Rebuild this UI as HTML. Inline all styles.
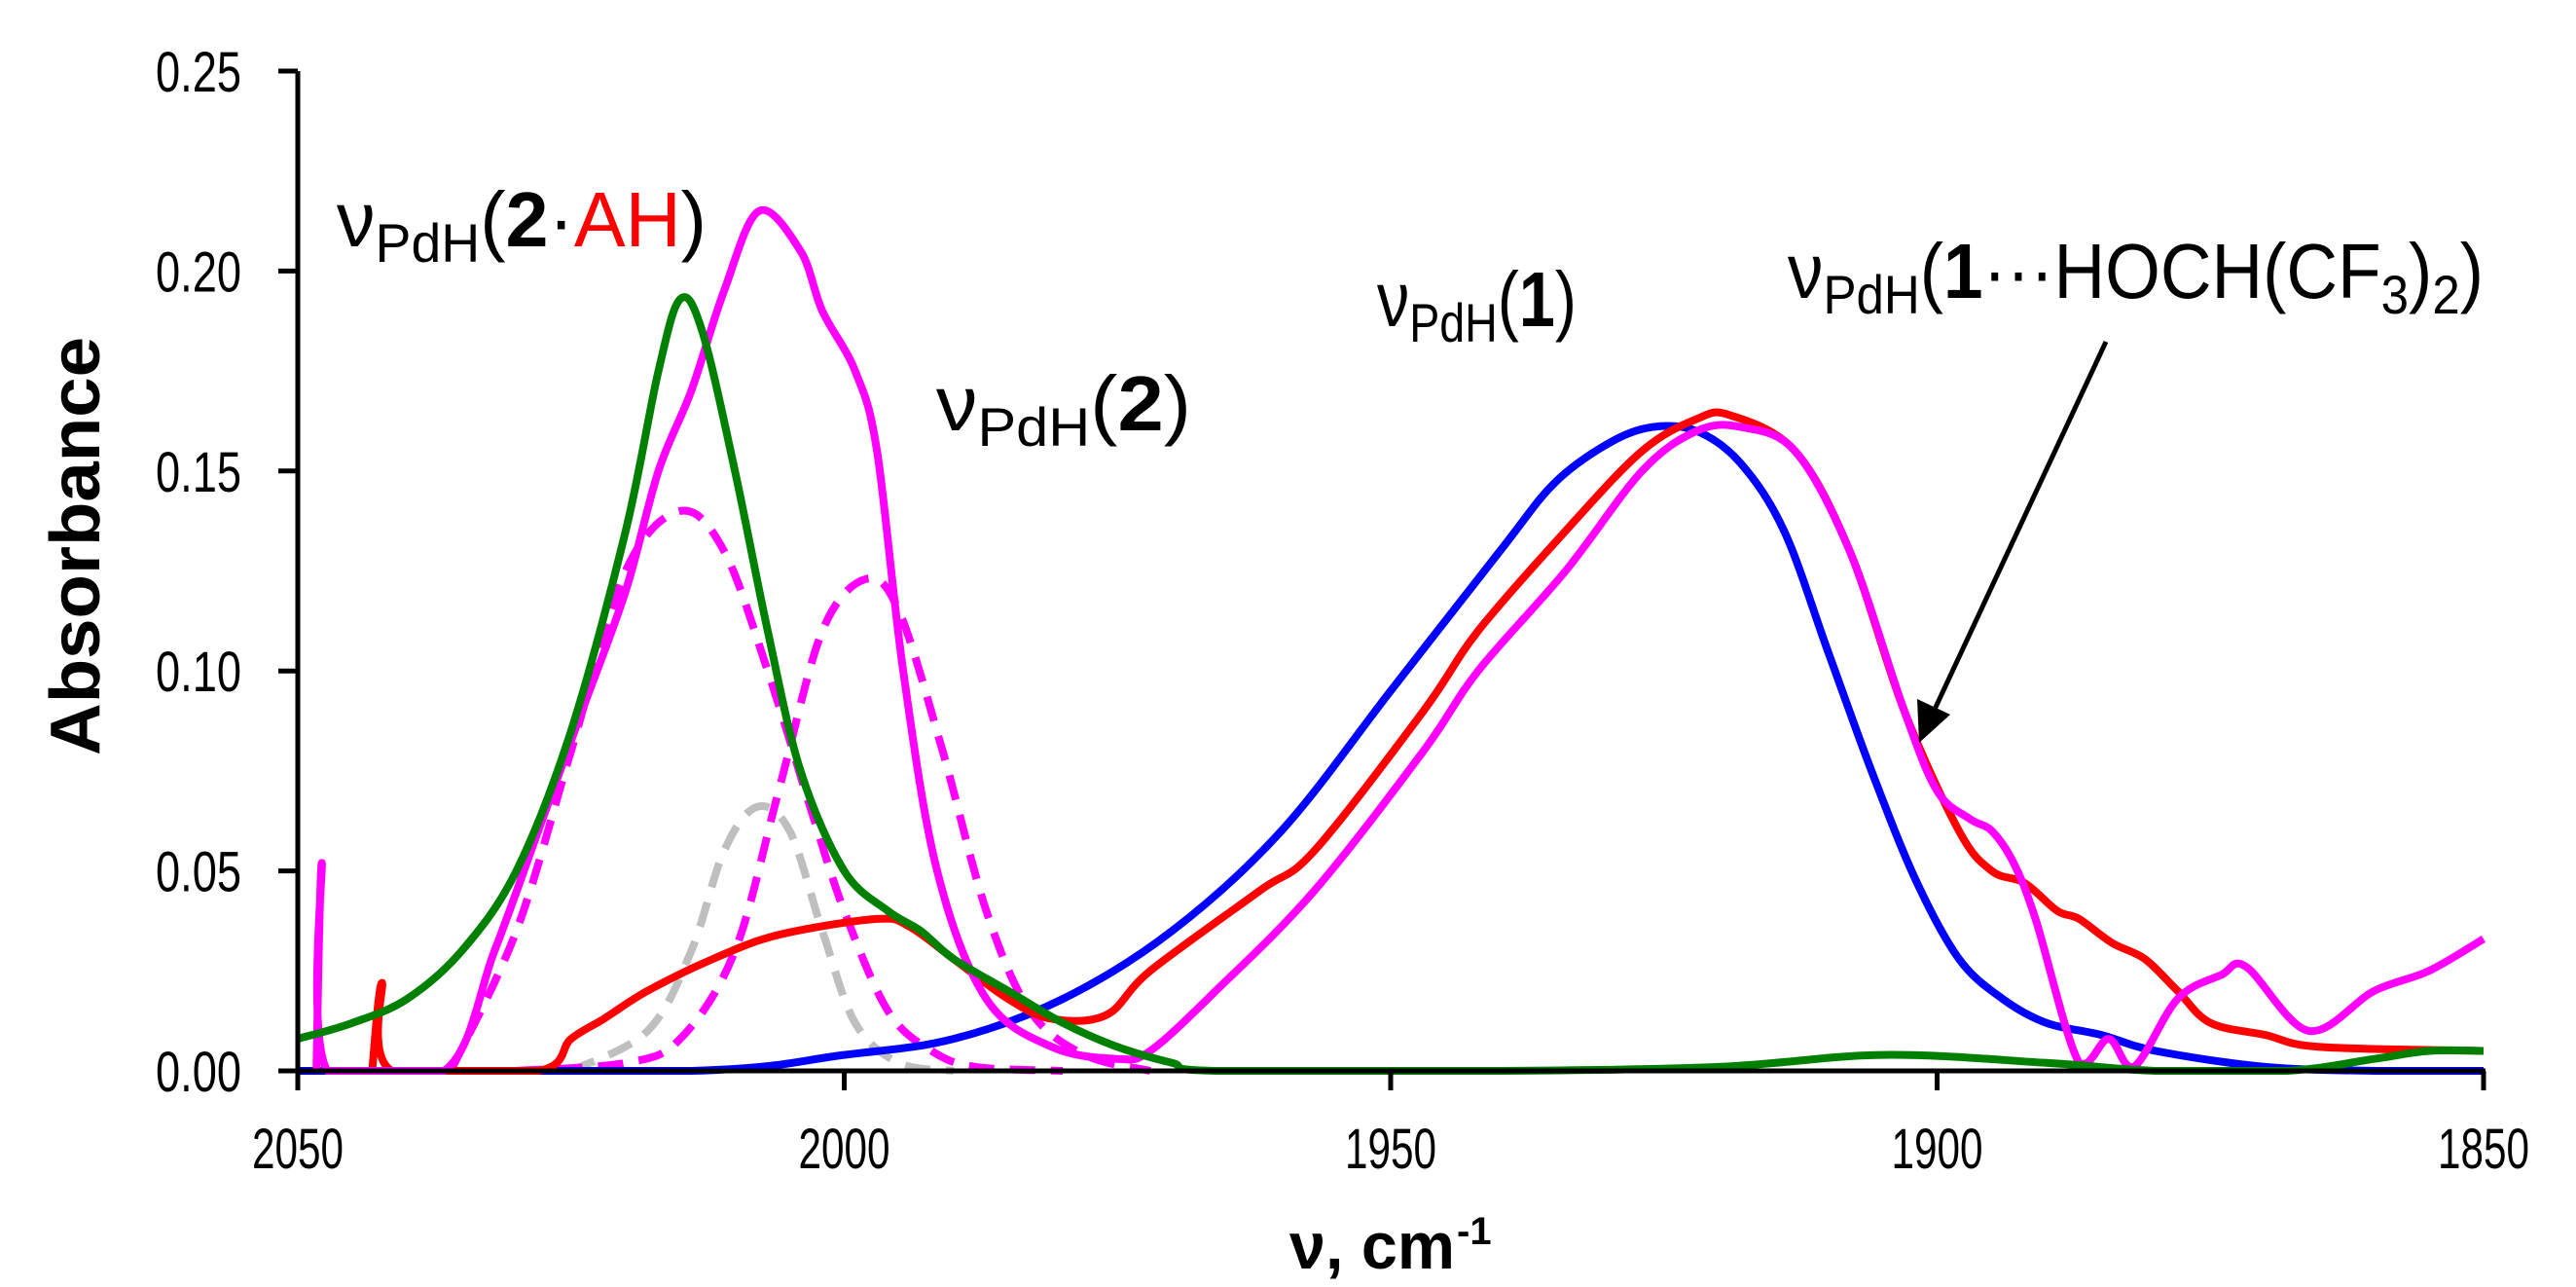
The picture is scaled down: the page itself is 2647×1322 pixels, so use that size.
<!DOCTYPE html>
<html><head><meta charset="utf-8"><style>
html,body{margin:0;padding:0;background:#fff;}
svg{display:block;font-family:"Liberation Sans",sans-serif;}
</style></head><body>
<svg id="chart" width="2647" height="1322" viewBox="0 0 2647 1322" xmlns="http://www.w3.org/2000/svg">
<g id="series"></g>
<g id="axes"></g>
<g font-size="80">
<text x="346" y="253" textLength="380" lengthAdjust="spacingAndGlyphs">ν<tspan font-size="56" dy="16">PdH</tspan><tspan dy="-16">(</tspan><tspan font-weight="bold">2</tspan>·<tspan fill="#ff0000">AH</tspan>)</text>
<text x="962" y="442" textLength="262" lengthAdjust="spacingAndGlyphs">ν<tspan font-size="56" dy="16">PdH</tspan><tspan dy="-16">(</tspan><tspan font-weight="bold">2</tspan>)</text>
<text x="1415" y="335" textLength="205" lengthAdjust="spacingAndGlyphs">ν<tspan font-size="56" dy="16">PdH</tspan><tspan dy="-16">(</tspan><tspan font-weight="bold">1</tspan>)</text>
<text x="1837" y="306" textLength="715" lengthAdjust="spacingAndGlyphs">ν<tspan font-size="56" dy="16">PdH</tspan><tspan dy="-16">(</tspan><tspan font-weight="bold">1</tspan>···HOCH(CF<tspan font-size="56" dy="16">3</tspan><tspan dy="-16">)</tspan><tspan font-size="56" dy="16">2</tspan><tspan dy="-16">)</tspan></text>
<line x1="2164" y1="351" x2="1985" y2="735" stroke="#000" stroke-width="5"/>
<polygon points="1972,763 1970,718 2004,734" fill="#000"/>
</g>
</svg>
<script>
const yTicks=[0,0.05,0.10,0.15,0.20,0.25];
const yTickLabels=["0.00","0.05","0.10","0.15","0.20","0.25"];
const xTicks=[2050,2000,1950,1900,1850];
const xTickLabels=["2050","2000","1950","1900","1850"];
const blueX=[2050,2014,2000,1990,1980,1970,1960,1950,1940,1935,1930,1926,1922,1918,1914,1910,1906,1902,1898,1894,1890,1885,1880,1870,1860,1850];
const blueY=[0,0,0.004,0.008,0.018,0.035,0.06,0.095,0.13,0.147,0.157,0.161,0.16,0.152,0.135,0.105,0.075,0.048,0.028,0.018,0.012,0.009,0.005,0.001,0,0];
const redX=[2043.2,2042.3,2041.4,2028,2025,2022,2018,2012,2006,1997,1994,1990,1985,1981,1976,1972,1962,1957,1947,1942,1934,1927,1922,1919,1913,1908,1903,1898,1895,1892,1889,1887,1884,1881,1878,1875,1870,1865,1850];
const redY=[0,0.022,0,0,0.008,0.013,0.02,0.028,0.034,0.038,0.036,0.028,0.018,0.013,0.014,0.025,0.045,0.055,0.09,0.11,0.135,0.155,0.163,0.164,0.155,0.13,0.09,0.06,0.05,0.047,0.04,0.038,0.032,0.028,0.02,0.012,0.009,0.006,0.005];
const magX=[2048.3,2047.8,2047.3,2036.6,2032,2028,2024,2020,2017,2014,2011,2007.8,2004,2002,1999,1997,1994.6,1991.5,1987,1981,1975,1972,1966,1957,1947,1942,1934,1927,1922,1918,1913,1908,1903,1900,1897,1895,1893,1891,1887,1884.3,1882,1878,1874,1871.7,1866,1860,1855,1850];
const magY=[0,0.052,0,0,0.03,0.06,0.09,0.12,0.15,0.17,0.195,0.215,0.205,0.19,0.175,0.155,0.1,0.05,0.018,0.006,0.003,0.005,0.02,0.045,0.08,0.1,0.125,0.15,0.16,0.161,0.155,0.13,0.09,0.07,0.063,0.06,0.052,0.038,0.002,0.008,0.001,0.018,0.024,0.026,0.01,0.02,0.025,0.033];
const greenX=[2050,2045,2040,2035,2030,2025,2020,2017,2015,2013,2010,2007,2004,2000,1996,1993,1990,1985,1980,1975,1970,1966,1940,1920,1905,1890,1880,1868,1860,1855,1850];
const greenY=[0.008,0.012,0.018,0.03,0.05,0.085,0.135,0.175,0.193,0.185,0.15,0.11,0.075,0.05,0.04,0.035,0.028,0.02,0.012,0.006,0.002,0,0,0.001,0.004,0.002,0,0,0.003,0.005,0.005];
const dash1X=[2036,2030,2025,2020,2015,2011,2007,2003,2000,1996,1992,1988,1980];
const dash1Y=[0,0.035,0.08,0.125,0.14,0.13,0.1,0.065,0.04,0.015,0.005,0.001,0];
const dash2X=[2030,2020,2015,2010,2006,2002,1998,1995,1991,1987,1983,1978,1972];
const dash2Y=[0,0.002,0.008,0.03,0.07,0.11,0.123,0.115,0.08,0.04,0.015,0.004,0];
const grayX=[2025,2018,2014,2011,2008,2005,2002,1999,1995,1990];
const grayY=[0,0.01,0.03,0.055,0.066,0.06,0.035,0.012,0.002,0];

const X0=306,X1=2552,Y0=1100,YT=73;
const xs=w=>X0+(2050-w)/200*(X1-X0);
const ys=v=>Y0-v/0.25*(Y0-YT);
const NS="http://www.w3.org/2000/svg";
function pathD(xa,ya){
  const p=xa.map((w,i)=>[xs(w),ys(Math.max(ya[i],0))]);
  let d="M"+p[0][0].toFixed(1)+","+p[0][1].toFixed(1);
  for(let i=0;i<p.length-1;i++){
    const a=p[Math.max(i-1,0)],b=p[i],c=p[i+1],e=p[Math.min(i+2,p.length-1)];
    const c1=[b[0]+(c[0]-a[0])/6,b[1]+(c[1]-a[1])/6],c2=[c[0]-(e[0]-b[0])/6,c[1]-(e[1]-b[1])/6];
    c1[1]=Math.min(c1[1],Y0);c2[1]=Math.min(c2[1],Y0);
    d+=" C"+c1.map(v=>v.toFixed(1))+" "+c2.map(v=>v.toFixed(1))+" "+c.map(v=>v.toFixed(1));
  }
  return d;
}
const sg=document.getElementById('series');
function add(xa,ya,color,dash,name){
  const el=document.createElementNS(NS,'path');
  el.setAttribute('d',pathD(xa,ya));
  el.setAttribute('fill','none');
  el.setAttribute('stroke',color);
  el.setAttribute('stroke-width','8');
  el.setAttribute('stroke-linejoin','round');
  if(dash)el.setAttribute('stroke-dasharray','26,16');
  
  
  sg.appendChild(el);
}
add(grayX,grayY,'#bfbfbf',true,'gray-dashed-component');
add(dash1X,dash1Y,'#ff00ff',true,'magenta-dashed-component-1');
add(dash2X,dash2Y,'#ff00ff',true,'magenta-dashed-component-2');
add(blueX,blueY,'#0000ff',false,'blue-spectrum');
add(redX,redY,'#ff0000',false,'red-spectrum');
add(magX,magY,'#ff00ff',false,'magenta-spectrum');
add(greenX,greenY,'#008000',false,'green-spectrum');

const ag=document.getElementById('axes');
function mk(tag,attrs,txt){const e=document.createElementNS(NS,tag);for(const k in attrs)e.setAttribute(k,attrs[k]);if(txt!==undefined)e.textContent=txt;ag.appendChild(e);return e;}
const ya=mk('line',{x1:X0,y1:YT,x2:X0,y2:Y0+14,stroke:'#000','stroke-width':5});


const xa=mk('line',{x1:X0,y1:Y0,x2:X1+2,y2:Y0,stroke:'#000','stroke-width':5});


yTicks.forEach((t,i)=>{
  const y=ys(t);
  const tk=mk('line',{x1:X0-20,y1:y,x2:X0,y2:y,stroke:'#000','stroke-width':5});
  
  
  const lb=mk('text',{x:160,y:y+21,'font-size':58,textLength:88,lengthAdjust:'spacingAndGlyphs'},yTickLabels[i]);
  
  
});
xTicks.forEach((t,i)=>{
  const x=xs(t);
  const tk=mk('line',{x1:x,y1:Y0,x2:x,y2:Y0+20,stroke:'#000','stroke-width':5});
  
  
  const lb=mk('text',{x:x-47,y:1200,'font-size':58,textLength:94,lengthAdjust:'spacingAndGlyphs'},xTickLabels[i]);
  
  
});
const xt=mk('text',{x:1325,y:1303,'font-size':68,'font-weight':'bold',textLength:170,lengthAdjust:'spacingAndGlyphs'},'ν, cm');


const sup=mk('text',{x:1497,y:1278,'font-size':40,'font-weight':'bold'},'-1');


const yt=mk('text',{x:0,y:0,'text-anchor':'middle','font-size':72,'font-weight':'bold',textLength:430,lengthAdjust:'spacingAndGlyphs',transform:'translate(102,561) rotate(-90)'},'Absorbance');


</script>
</body></html>
